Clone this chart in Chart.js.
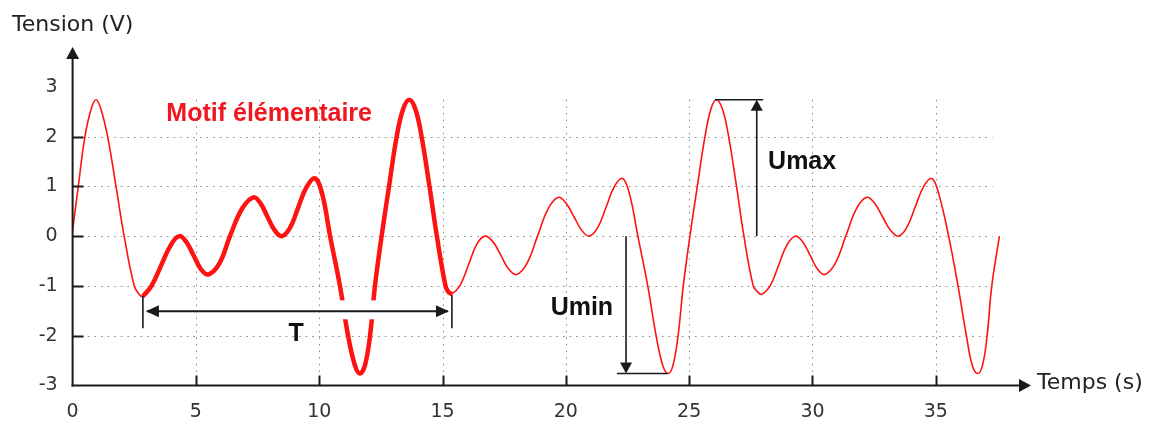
<!DOCTYPE html>
<html>
<head>
<meta charset="utf-8">
<script src="https://cdn.jsdelivr.net/npm/chart.js@4"></script>
<style>
html,body{margin:0;padding:0;background:#fff;}
canvas{display:block;}
</style>
</head>
<body>
<canvas id="c" width="1162" height="421"></canvas>
<script>
// ---- data (time in s, tension in V) ----
const times = [
  0, 0.23, 0.5, 0.75, 0.95, 1.15, 1.42, 1.76, 2.09, 2.5, 2.7, 2.85,
  3.2, 3.58, 3.98, 4.32, 4.6, 4.9, 5.2, 5.5, 5.96, 6.38, 6.87, 7.33,
  7.62, 7.9, 8.19, 8.48, 8.82, 9.15, 9.49, 9.83, 10.12, 10.44, 10.84, 11.17, 11.45, 11.65,
  11.85, 12.06, 12.26, 12.53, 12.83, 13.14, 13.4, 13.65, 13.9, 14.15, 14.47, 14.77, 15.12, 15.25, 15.38,
  15.71, 16.05, 16.38, 16.72, 17.04, 17.36, 17.68, 18.0, 18.43, 18.85, 19.28, 19.7,
  20.01, 20.33, 20.64, 20.95, 21.29, 21.63, 21.96, 22.3, 22.58, 22.92, 23.32, 23.66, 23.93, 24.14,
  24.34, 24.55, 24.76, 25.03, 25.33, 25.64, 25.88, 26.1, 26.35, 26.6, 26.92, 27.22, 27.6, 27.8, 27.95,
  28.29, 28.63, 28.96, 29.3, 29.6, 29.9, 30.2, 30.5, 30.93, 31.35, 31.78, 32.2,
  32.52, 32.84, 33.16, 33.48, 33.82, 34.16, 34.5, 34.84, 35.12, 35.52, 35.9, 36.24, 36.48, 36.69,
  36.89, 37.08, 37.27, 37.58];
const volts = [
  0.12, 1.0, 2.0, 2.55, 2.74, 2.55, 2.0, 1.0, 0, -1.0, -1.17, -1.21,
  -1.0, -0.6, -0.18, 0, -0.11, -0.38, -0.66, -0.77, -0.54, 0, 0.55, 0.78,
  0.66, 0.39, 0.12, 0, 0.17, 0.58, 0.99, 1.16, 0.85, 0, -1.0, -2.0, -2.6, -2.76,
  -2.6, -2.0, -1.0, 0, 1.0, 2.0, 2.55, 2.74, 2.55, 2.0, 1.0, 0, -1.0, -1.13, -1.16,
  -0.99, -0.58, -0.17, 0, -0.11, -0.38, -0.66, -0.77, -0.54, 0, 0.55, 0.78,
  0.66, 0.39, 0.12, 0, 0.17, 0.58, 0.99, 1.16, 0.85, 0, -1.0, -2.0, -2.6, -2.76,
  -2.6, -2.0, -1.0, 0, 1.0, 2.0, 2.55, 2.74, 2.55, 2.0, 1.0, 0, -1.0, -1.13, -1.17,
  -0.99, -0.58, -0.18, 0, -0.11, -0.38, -0.66, -0.77, -0.54, 0, 0.55, 0.78,
  0.66, 0.39, 0.12, 0, 0.17, 0.58, 0.99, 1.16, 0.85, 0, -1.0, -2.0, -2.6, -2.76,
  -2.6, -2.0, -1.0, 0];
const motifStart = 2.85;   // start of the elementary pattern (s)
const motifEnd = 15.38;    // end of the elementary pattern (s)
const uMax = 2.74;
const uMin = -2.76;
const xTicks = [0, 5, 10, 15, 20, 25, 30, 35];
const yTicks = [-3, -2, -1, 0, 1, 2, 3];
const xGrid = [5, 10, 15, 20, 25, 30, 35];
const yGrid = [-2, -1, 0, 1, 2];

const allPts = times.map((t, i) => ({x: t, y: volts[i]}));
const motifPts = allPts.filter(p => p.x >= motifStart - 1e-9 && p.x <= motifEnd + 1e-9);

const RED = 'rgb(255,18,18)';
const INK = '#1a1a1a';

function arrowHead(ctx, tx, ty, dir, len, half) {
  ctx.beginPath();
  ctx.moveTo(tx, ty);
  if (dir === 'up') { ctx.lineTo(tx - half, ty + len); ctx.lineTo(tx + half, ty + len); }
  if (dir === 'down') { ctx.lineTo(tx - half, ty - len); ctx.lineTo(tx + half, ty - len); }
  if (dir === 'left') { ctx.lineTo(tx + len, ty - half); ctx.lineTo(tx + len, ty + half); }
  if (dir === 'right') { ctx.lineTo(tx - len, ty - half); ctx.lineTo(tx - len, ty + half); }
  ctx.closePath();
  ctx.fill();
}
function line(ctx, x1, y1, x2, y2) {
  ctx.beginPath(); ctx.moveTo(x1, y1); ctx.lineTo(x2, y2); ctx.stroke();
}

const annot = {
  id: 'annot',
  beforeDatasetsDraw(chart) {
    const {ctx, scales: {x, y}} = chart;
    ctx.save();
    ctx.strokeStyle = '#8c8c8c';
    ctx.lineWidth = 1;
    ctx.setLineDash([1.6, 5]);
    yGrid.forEach(v => {
      const py = Math.round(y.getPixelForValue(v)) + 0.5;
      line(ctx, x.getPixelForValue(0) + 2, py, x.getPixelForValue(37.3), py);
    });
    xGrid.forEach(v => {
      const px = Math.round(x.getPixelForValue(v)) + 0.5;
      line(ctx, px, y.getPixelForValue(uMax), px, y.getPixelForValue(-3) - 2);
    });
    ctx.restore();
  },
  afterDatasetsDraw(chart) {
    const {ctx, scales: {x, y}, chartArea} = chart;
    const X = v => x.getPixelForValue(v);
    const Y = v => y.getPixelForValue(v);
    ctx.save();
    // gap in the motif around the T arrow
    ctx.fillStyle = '#fff';
    ctx.fillRect(X(10.55), Y(-1.29), X(12.7) - X(10.55), Y(-1.67) - Y(-1.29));

    ctx.strokeStyle = INK; ctx.fillStyle = INK; ctx.lineWidth = 2; ctx.setLineDash([]);
    const x0 = X(0), yb = Y(-3);
    // y axis with arrow
    line(ctx, x0, yb + 1, x0, chartArea.top + 10);
    arrowHead(ctx, x0, chartArea.top, 'up', 12, 6.5);
    // x axis with arrow
    line(ctx, x0 - 1, yb, chartArea.right - 10, yb);
    arrowHead(ctx, chartArea.right, yb, 'right', 12, 6.5);
    // ticks
    yGrid.forEach(v => line(ctx, x0, Math.round(Y(v)) + 0.5, x0 + 11, Math.round(Y(v)) + 0.5));
    xGrid.forEach(v => line(ctx, Math.round(X(v)) + 0.5, yb, Math.round(X(v)) + 0.5, yb - 10));

    // T arrow
    const yT = Y(-1.51);
    line(ctx, X(motifStart) + 4, yT, X(motifEnd) - 4, yT);
    arrowHead(ctx, X(motifStart) + 3, yT, 'left', 13, 6);
    arrowHead(ctx, X(motifEnd) - 3, yT, 'right', 13, 6);
    ctx.lineWidth = 1.6;
    line(ctx, X(motifStart), Y(-1.2), X(motifStart), Y(-1.85));
    line(ctx, X(motifEnd), Y(-1.18), X(motifEnd), Y(-1.85));

    // Umin
    const xUmin = X(22.44);
    line(ctx, xUmin, Y(0), xUmin, Y(uMin) - 8);
    arrowHead(ctx, xUmin, Y(uMin), 'down', 11, 6);
    line(ctx, X(22.07), Y(uMin), X(24.14), Y(uMin));
    // Umax
    const xUmax = X(27.74);
    line(ctx, xUmax, Y(0), xUmax, Y(uMax) + 8);
    arrowHead(ctx, xUmax, Y(uMax), 'up', 11, 6);
    line(ctx, X(26.05), Y(uMax), X(28.0), Y(uMax));

    // texts
    ctx.textAlign = 'center'; ctx.textBaseline = 'middle';
    ctx.font = 'bold 25px "Liberation Sans", Arial, sans-serif';
    ctx.fillStyle = 'rgb(240,24,32)';
    ctx.fillText('Motif élémentaire', X(7.97), Y(2.45));
    ctx.fillStyle = '#111';
    ctx.fillText('T', X(9.06), Y(-1.97));
    ctx.fillText('Umin', X(20.65), Y(-1.45));
    ctx.fillText('Umax', X(29.58), Y(1.49));

    ctx.font = '22px "DejaVu Sans", sans-serif';
    ctx.fillStyle = '#222';
    ctx.textAlign = 'left';
    ctx.fillText('Tension (V)', 12, 25);
    ctx.fillText('Temps (s)', chartArea.right + 6, yb - 2);
    ctx.restore();
  }
};

new Chart(document.getElementById('c'), {
  type: 'line',
  data: {
    datasets: [
      {data: motifPts, borderColor: RED, borderWidth: 4.5, pointRadius: 0, tension: 0.4, fill: false, order: 0},
      {data: allPts, borderColor: RED, borderWidth: 1.6, pointRadius: 0, tension: 0.4, fill: false, order: 1}
    ]
  },
  options: {
    responsive: false,
    animation: false,
    events: [],
    layout: {padding: {left: 0, top: 47, right: 131, bottom: 0}},
    plugins: {legend: {display: false}, tooltip: {enabled: false}},
    scales: {
      x: {
        type: 'linear', min: 0, max: 38.86,
        grid: {display: false, drawTicks: false}, border: {display: false},
        ticks: {font: {family: 'DejaVu Sans', size: 19}, color: '#333', padding: 15, maxRotation: 0, autoSkip: false},
        afterBuildTicks: s => { s.ticks = xTicks.map(v => ({value: v})); },
        afterFit: s => { s.height = 35.5; }
      },
      y: {
        type: 'linear', min: -3, max: 3.8,
        grid: {display: false, drawTicks: false}, border: {display: false},
        ticks: {font: {family: 'DejaVu Sans', size: 19}, color: '#333', padding: 15, autoSkip: false},
        afterBuildTicks: s => { s.ticks = yTicks.map(v => ({value: v})); },
        afterFit: s => { s.width = 72.6; }
      }
    }
  },
  plugins: [annot]
});
</script>
</body>
</html>
